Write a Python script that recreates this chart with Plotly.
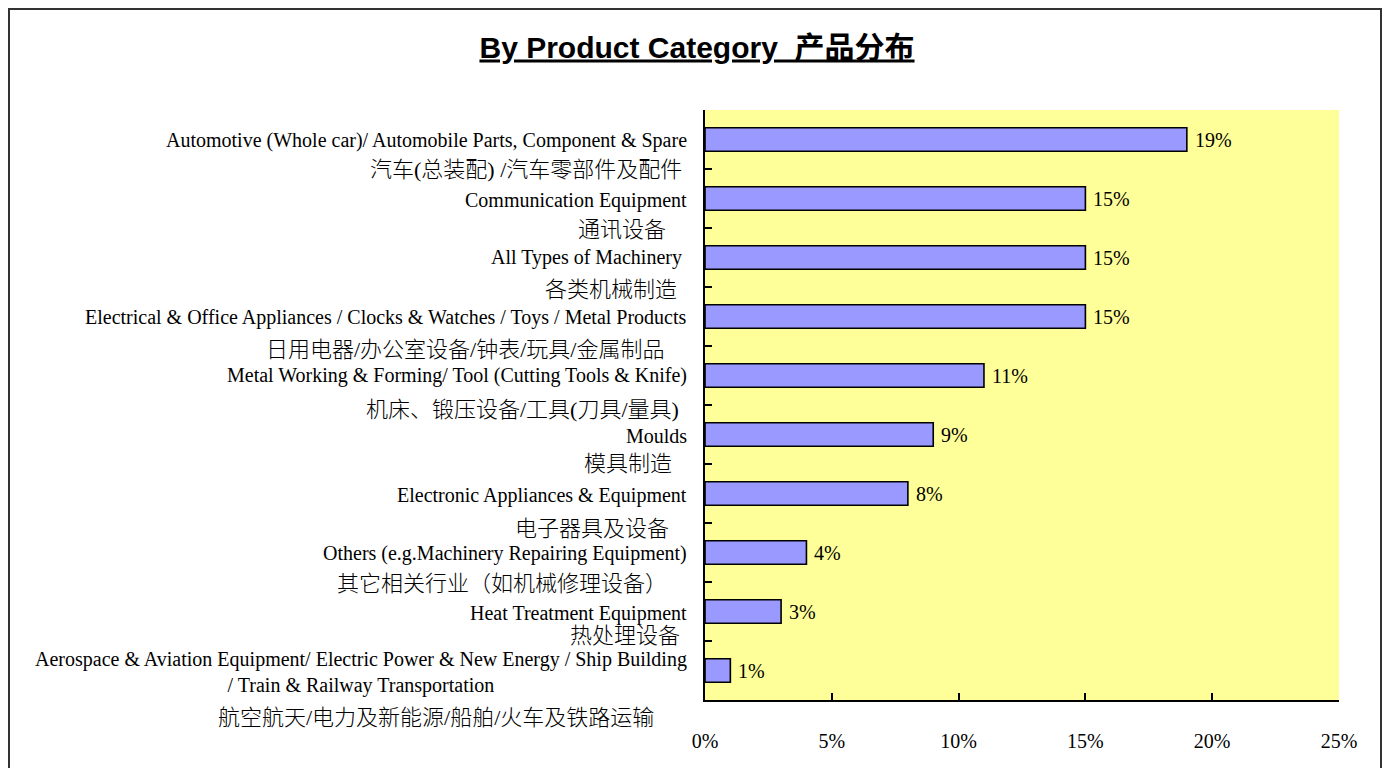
import plotly.graph_objects as go

# ---- data ----
categories = ["Automotive", "Communication", "Machinery", "Electrical", "Metal Working",
              "Moulds", "Electronic", "Others", "Heat Treatment", "Aerospace"]
labels_en = [
    "Automotive (Whole car)/ Automobile Parts, Component & Spare",
    "Communication Equipment",
    "All Types of Machinery",
    "Electrical & Office Appliances / Clocks & Watches / Toys / Metal Products",
    "Metal Working & Forming/ Tool (Cutting Tools & Knife)",
    "Moulds",
    "Electronic Appliances & Equipment",
    "Others (e.g.Machinery Repairing Equipment)",
    "Heat Treatment Equipment",
    "Aerospace & Aviation Equipment/ Electric Power & New Energy / Ship Building<br>/ Train & Railway Transportation",
]
labels_zh = [
    "汽车(总装配) /汽车零部件及配件",
    "通讯设备",
    "各类机械制造",
    "日用电器/办公室设备/钟表/玩具/金属制品",
    "机床、锻压设备/工具(刀具/量具)",
    "模具制造",
    "电子器具及设备",
    "其它相关行业（如机械修理设备）",
    "热处理设备",
    "航空航天/电力及新能源/船舶/火车及铁路运输",
]
values = [19, 15, 15, 15, 11, 9, 8, 4, 3, 1]
x_ticks = [0, 5, 10, 15, 20, 25]
x_tick_text = ["0%", "5%", "10%", "15%", "20%", "25%"]

# ---- label placement (styles, page pixels) ----
en_right = [688, 688, 683, 688, 688, 688, 688, 688, 688, 688]
en_yshift = [-1, -2, 0, -1, 0, -1, -2, -1, -2, -2]
zh_right = [683, 667, 678, 665, 680, 673, 670, 668, 681, 655]
zh_yshift = [-30, -31, -32, -33, -34, -29, -35, -31, -24, -47]

OFF = 8  # page body margin
W, H = 1390 - 2 * OFF, 776 - 2 * OFF
L = 705 - OFF
T = 110 - OFF
R = W - (1339 - OFF)
B = H - (700 - OFF)
pw, ph = W - L - R, H - T - B
BORDER_RIGHT = 1381  # page x of right frame edge

fig = go.Figure()
fig.add_trace(go.Bar(
    x=values, y=categories, orientation="h",
    marker=dict(color="#9999FF", line=dict(color="black", width=1.6)),
    width=0.4, hoverinfo="skip",
))

ann = []
for i, c in enumerate(categories):
    ann.append(dict(x=0, xref="paper", y=c, yref="y", xanchor="right", yanchor="middle",
                    xshift=en_right[i] - 705 + 1, yshift=en_yshift[i], align="center",
                    text=labels_en[i], showarrow=False,
                    font=dict(family="Liberation Serif", size=20, color="black")))
    ann.append(dict(x=0, xref="paper", y=c, yref="y", xanchor="right", yanchor="middle",
                    xshift=zh_right[i] - 705 + 1, yshift=zh_yshift[i],
                    text=labels_zh[i], showarrow=False,
                    font=dict(family="Liberation Serif, Noto Sans CJK SC", size=22,
                              color="black", weight=300)))
    ann.append(dict(x=values[i], xref="x", y=c, yref="y", xanchor="left", yanchor="middle",
                    xshift=6, text=f"{values[i]}%", showarrow=False,
                    font=dict(family="Liberation Serif", size=20, color="black")))

fig.update_layout(
    width=W, height=H,
    margin=dict(l=L, r=R, t=T, b=B, pad=0),
    paper_bgcolor="white", plot_bgcolor="#FFFF99",
    showlegend=False,
    title=dict(text="<u><b>By Product Category  产品分布</b></u>",
               x=(697 - OFF) / W, xanchor="center", y=1 - (47 - OFF) / H, yanchor="middle",
               yref="container",
               font=dict(family="Liberation Sans, Noto Sans CJK SC", size=30, color="black")),
    xaxis=dict(range=[0, 25], tickvals=x_ticks, ticktext=x_tick_text, showgrid=False, zeroline=False,
               showline=True, linecolor="black", linewidth=2, ticks="inside", ticklen=7,
               tickcolor="black", tickwidth=1.5, ticklabelstandoff=22,
               tickfont=dict(family="Liberation Serif", size=20, color="black")),
    yaxis=dict(categoryorder="array", categoryarray=categories, range=[9.5, -0.5],
               autorange=False,
               showgrid=False, zeroline=False, showline=True, linecolor="black", linewidth=2,
               ticks="inside", ticklen=7, tickcolor="black", tickwidth=1.5,
               tickson="boundaries", showticklabels=False),
    annotations=ann,
    shapes=[dict(type="rect", xref="paper", yref="paper",
                 x0=(1 - L) / pw, x1=(BORDER_RIGHT - OFF - L) / pw,
                 y0=-(B + 40) / ph, y1=(ph + T - 1) / ph,
                 line=dict(color="#333333", width=2), fillcolor="rgba(0,0,0,0)", layer="below")],
)

fig.write_html("out.html")
